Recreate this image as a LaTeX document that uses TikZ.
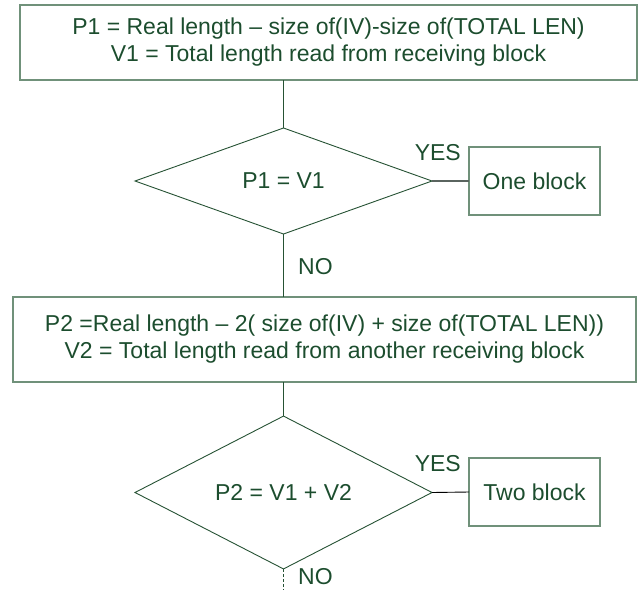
\documentclass[tikz,border=0pt]{standalone}
\usepackage{fontspec}
\setmainfont{Liberation Sans}
\usetikzlibrary{shapes.geometric}
\definecolor{txtgreen}{RGB}{28,77,46}
\definecolor{boxedge}{RGB}{112,145,122}
\definecolor{linegreen}{RGB}{38,82,52}
\definecolor{linkgray}{RGB}{90,100,95}
\begin{document}
\begin{tikzpicture}[x=1pt,y=-1pt,
  every node/.style={text=txtgreen, font=\fontsize{23}{27}\selectfont},
  procbox/.style={draw=boxedge, line width=1.2pt, inner sep=0pt, outer sep=0pt, align=center},
  decision/.style={diamond, draw=linegreen, line width=0.9pt, inner sep=0pt, outer sep=0pt},
  lbl/.style={inner sep=0pt},
  conn/.style={draw=linegreen, line width=0.9pt}]
\useasboundingbox (0,0) rectangle (639,589);

% process boxes
\node[procbox, minimum width=617pt, minimum height=75pt] (p1) at (328.5,42.5)
  {P1 = Real length -- size of(IV)-size of(TOTAL LEN)\\V1 = Total length read from receiving block};
\node[procbox, minimum width=623pt, minimum height=85pt] (p2) at (324.5,339.5)
  {P2 =Real length -- 2( size of(IV) + size of(TOTAL LEN))\\V2 = Total length read from another receiving block};

% decisions
\node[decision, minimum width=297pt, minimum height=106pt] (d1) at (283.5,181) {P1 = V1};
\node[decision, minimum width=297pt, minimum height=106pt] (d2) at (283.5,492.5) {P2 = V1 + V2};

% outcomes
\node[procbox, minimum width=131pt, minimum height=68pt] (one) at (534.5,181) {One block};
\node[procbox, minimum width=131pt, minimum height=68pt] (two) at (534.5,492) {Two block};

% branch labels
\node[lbl, anchor=east] (yes1) at (461,153) {YES};
\node[lbl, anchor=east] (yes2) at (461,464) {YES};
\node[lbl, anchor=west] (no1) at (298,267) {NO};
\node[lbl, anchor=west] (no2) at (298,577) {NO};

% connectors
\coordinate (tail) at (283.5,589);
\draw[conn] (p1.south -| d1.north) -- (d1.north);
\draw[conn] (d1.south) -- (d1.south |- p2.north);
\draw[conn] (d1.south |- p2.south) -- (d2.north);
\draw[draw=linkgray, line width=1.2pt] (d1.east) -- (one.west);
\draw[draw=black, line width=0.9pt] (d2.east) -- (two.west);
\draw[conn, dash pattern=on 3pt off 2pt] (d2.south) -- (tail);
\end{tikzpicture}
\end{document}
